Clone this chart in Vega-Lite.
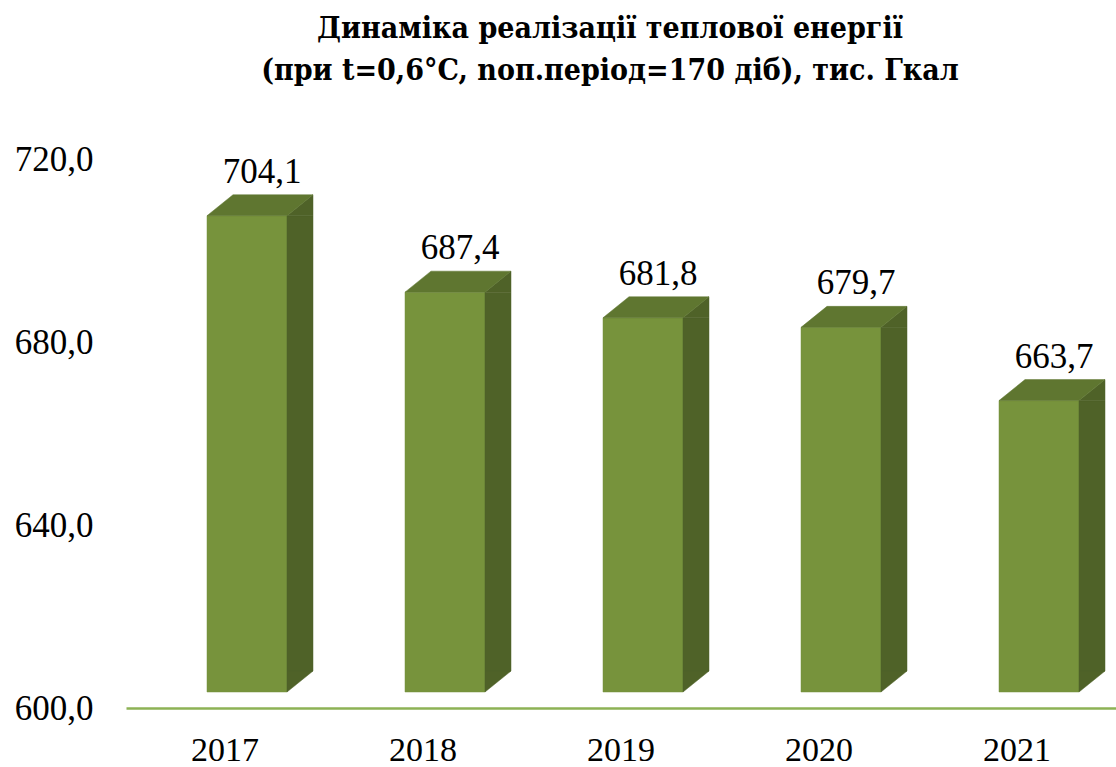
{
  "$schema": "https://vega.github.io/schema/vega-lite/v6.json",
  "width": 990,
  "height": 549,
  "autosize": {"type": "none"},
  "padding": {"left": 126, "top": 143, "right": 0, "bottom": 75},
  "background": "white",
  "config": {
    "view": {"stroke": null},
    "font": "Liberation Serif",
    "locale": {"number": {"decimal": ",", "thousands": " ", "grouping": [3], "currency": ["", ""]}}
  },
  "title": {
    "text": ["Динаміка реалізації теплової енергії", "(при t=0,6°C, nоп.період=170 діб), тис. Гкал"],
    "font": "DejaVu Serif Condensed",
    "fontSize": 30,
    "fontWeight": "bold",
    "color": "black",
    "anchor": "middle",
    "dx": -11,
    "offset": 56,
    "lineHeight": 42
  },
  "data": {
    "values": [
      {"year": "2017", "value": 704.1},
      {"year": "2018", "value": 687.4},
      {"year": "2019", "value": 681.8},
      {"year": "2020", "value": 679.7},
      {"year": "2021", "value": 663.7}
    ]
  },
  "encoding": {
    "x": {
      "field": "year",
      "type": "nominal",
      "sort": null,
      "scale": {"paddingInner": 0, "paddingOuter": 0},
      "axis": {
        "title": null,
        "orient": "bottom",
        "offset": 16,
        "domainColor": "#8DB255",
        "domainWidth": 2.5,
        "ticks": false,
        "tickSize": 0,
        "labelAngle": 0,
        "labelPadding": 25,
        "labelFont": "Liberation Serif",
        "labelFontSize": 34,
        "labelColor": "black",
        "grid": false
      }
    },
    "y": {
      "field": "value",
      "type": "quantitative",
      "scale": {"domain": [600, 720], "nice": false, "zero": false},
      "axis": {
        "title": null,
        "values": [600, 640, 680, 720],
        "format": ".1f",
        "domain": false,
        "ticks": false,
        "tickSize": 0,
        "grid": false,
        "labelPadding": 33,
        "labelOffset": 16,
        "labelFlush": false,
        "labelOverlap": false,
        "labelFont": "Liberation Serif",
        "labelFontSize": 35,
        "labelColor": "black"
      }
    }
  },
  "layer": [
    {
      "mark": {"type": "bar", "width": 80, "xOffset": 22, "color": "#77933C", "stroke": "#77933C", "strokeWidth": 0.5},
      "encoding": {"y2": {"datum": 600}}
    },
    {
      "mark": {"type": "bar", "width": 26, "xOffset": 75, "y2Offset": -21, "color": "#4F6228", "stroke": "#4F6228", "strokeWidth": 0.5},
      "encoding": {"y2": {"datum": 600}}
    },
    {
      "mark": {"type": "point", "shape": "M62,0L88,-21L88,0Z", "size": 4, "filled": true, "fill": "#4F6228", "stroke": "#4F6228", "strokeWidth": 0.5, "opacity": 1},
      "encoding": {}
    },
    {
      "mark": {"type": "point", "shape": "M-18,0L62,0L88,-21L8,-21Z", "size": 4, "filled": true, "fill": "#5F7630", "stroke": "#5F7630", "strokeWidth": 0.5, "opacity": 1},
      "encoding": {}
    },
    {
      "mark": {"type": "point", "shape": "M62,-21L88,-21L62,0Z", "size": 4, "filled": true, "fill": "#4F6228", "stroke": "#4F6228", "strokeWidth": 0.5, "opacity": 1},
      "encoding": {"y": {"datum": 600}}
    },
    {
      "mark": {"type": "text", "dx": 37, "dy": -33, "baseline": "alphabetic", "align": "center", "font": "Liberation Serif", "fontSize": 35, "color": "black"},
      "encoding": {"text": {"field": "value", "type": "quantitative", "format": ".1f"}}
    }
  ]
}
